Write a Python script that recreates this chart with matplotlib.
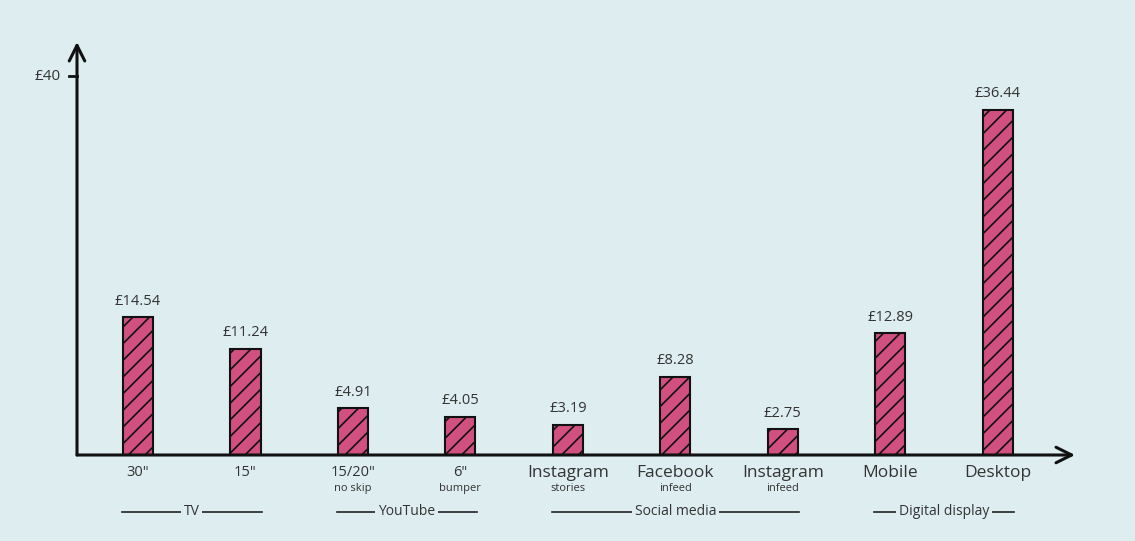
import matplotlib
matplotlib.use("Agg")
import matplotlib.pyplot as plt
import matplotlib.transforms as mtransforms

categories = ['30"', '15"', '15/20"', '6"', 'Instagram', 'Facebook', 'Instagram', 'Mobile', 'Desktop']
sublabels = ['', '', 'no skip', 'bumper', 'stories', 'infeed', 'infeed', '', '']
values = [14.54, 11.24, 4.91, 4.05, 3.19, 8.28, 2.75, 12.89, 36.44]
value_labels = ['£14.54', '£11.24', '£4.91', '£4.05', '£3.19', '£8.28', '£2.75', '£12.89', '£36.44']
groups = ['TV', 'YouTube', 'Social media', 'Digital display']
group_members = [[0, 1], [2, 3], [4, 5, 6], [7, 8]]
ytick_vals = [40]
ytick_labels = ['£40']

BG = '#deedf0'
BAR = '#d2507f'
TXT = '#333333'
plt.rcParams['font.family'] = ['Open Sans', 'DejaVu Sans']
plt.rcParams['hatch.linewidth'] = 1.2
plt.rcParams['hatch.color'] = '#111111'

fig = plt.figure(figsize=(11.35, 5.41), dpi=100, facecolor=BG)
ax = fig.add_axes([77/1135, (541-455)/541, 998/1135, 413/541])
ax.set_facecolor(BG)
ax.set_xlim(-0.568, 8.72)
ax.set_ylim(0, 43.6)
for s in ax.spines.values():
    s.set_visible(False)
ax.set_xticks([])
ax.set_yticks([])

x = list(range(len(categories)))
ax.bar(x, values, width=0.28, color=BAR, edgecolor='#111111', linewidth=1.5,
       hatch='//', zorder=3)

for xi, v, lab in zip(x, values, value_labels):
    ax.annotate(lab, (xi, v), xytext=(0, 6), textcoords='offset points',
                ha='center', va='bottom', fontsize=10.5, color=TXT)

# axes with arrows
ax.annotate('', xy=(1.0, 0), xytext=(0, 0), xycoords='axes fraction',
            arrowprops=dict(arrowstyle='->', lw=2.2, color='#111111',
                            mutation_scale=28, shrinkA=0, shrinkB=0), zorder=4)
ax.annotate('', xy=(0, 1.0), xytext=(0, 0), xycoords='axes fraction',
            arrowprops=dict(arrowstyle='->', lw=2.2, color='#111111',
                            mutation_scale=28, shrinkA=0, shrinkB=0), zorder=4)

# y tick
trans_y = mtransforms.blended_transform_factory(ax.transAxes, ax.transData)
for tv, tl in zip(ytick_vals, ytick_labels):
    ax.plot([-0.008, 0.0], [tv, tv], transform=trans_y, color='#111111', lw=2,
            clip_on=False)
    ax.text(-0.016, tv, tl, transform=trans_y, ha='right', va='center',
            fontsize=11, color=TXT)

trans_x = mtransforms.blended_transform_factory(ax.transData, ax.transAxes)
for xi, cat, sub in zip(x, categories, sublabels):
    big = cat[-1] != '"'
    ax.text(xi, -0.025, cat, transform=trans_x, ha='center', va='top',
            fontsize=12.5 if big else 10.5, color=TXT)
    if sub:
        ax.text(xi, -0.068, sub, transform=trans_x, ha='center', va='top',
                fontsize=8, color=TXT)

for g, mem in zip(groups, group_members):
    x0 = mem[0] - 0.15
    x1 = mem[-1] + 0.15
    ax.plot([x0, x1], [-0.138, -0.138], transform=trans_x, color='#222222',
            lw=1.2, clip_on=False)
    ax.text((x0 + x1) / 2, -0.138, g, transform=trans_x, ha='center',
            va='center', fontsize=10, color=TXT,
            bbox=dict(facecolor=BG, edgecolor='none', pad=2))

fig.savefig('out.png', dpi=100, facecolor=BG)
